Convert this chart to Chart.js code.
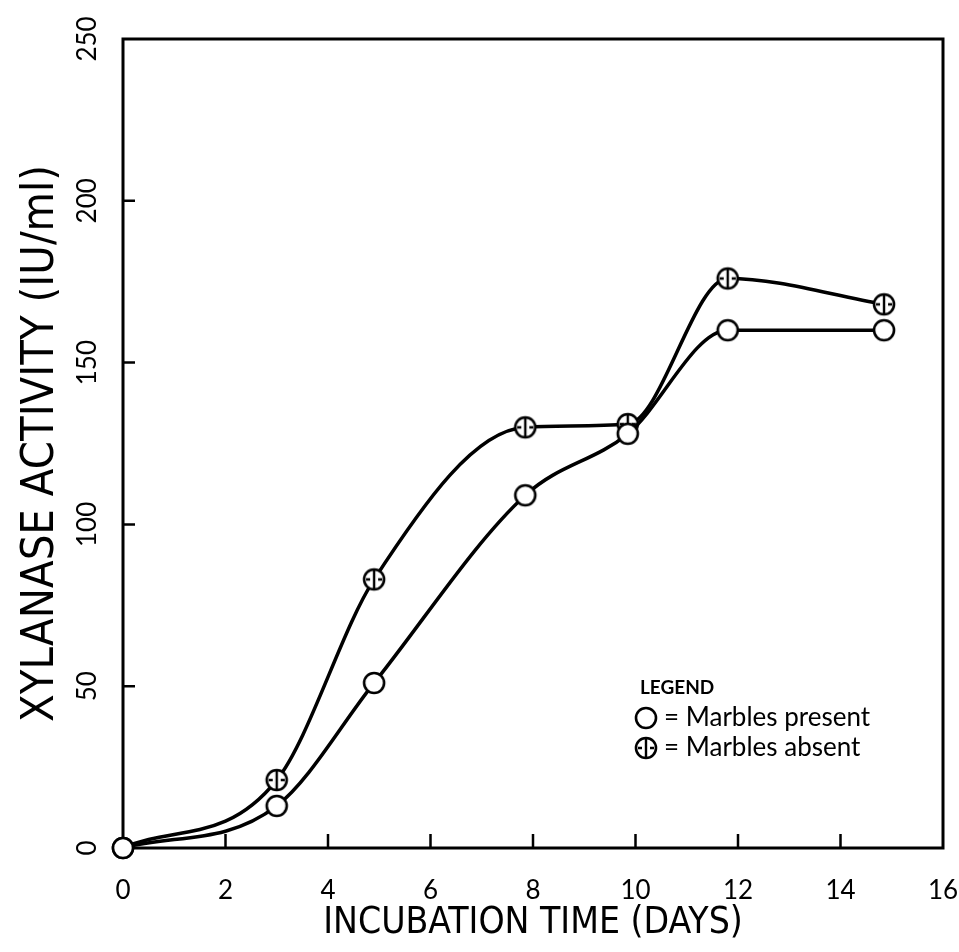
<!DOCTYPE html>
<html>
<head>
<meta charset="utf-8">
<title>Xylanase activity</title>
<script src="https://cdn.jsdelivr.net/npm/chart.js@4/dist/chart.umd.min.js"></script>
<style>
  html, body { margin: 0; padding: 0; background: #fff; }
  #wrap { width: 959px; height: 952px; }
</style>
</head>
<body>
<div id="wrap"><canvas id="chart" width="959" height="952"></canvas></div>
<script>
// values
const days = [0, 3, 4.9, 7.85, 9.85, 11.8, 14.85];
const presentValues = [0, 13, 51, 109, 128, 160, 160];
const absentValues = [0, 21, 83, 130, 131, 176, 168];
const xTickValues = [0, 2, 4, 6, 8, 10, 12, 14, 16];
const yTickValues = [0, 50, 100, 150, 200, 250];
const legendTitle = 'LEGEND';
const legendLabels = ['= Marbles present', '= Marbles absent'];

const NARROW = '"Liberation Sans Narrow", "DejaVu Sans Condensed", "Liberation Sans", sans-serif';
const ROUND = 'Lato, "Noto Sans", sans-serif';

function makeMarker(crossed) {
  const c = document.createElement('canvas');
  c.width = 26;
  c.height = 26;
  const g = c.getContext('2d');
  g.fillStyle = '#fff';
  g.strokeStyle = '#000';
  g.lineWidth = 2.6;
  g.beginPath();
  g.arc(13, 13, 10, 0, Math.PI * 2);
  g.fill();
  g.stroke();
  if (crossed) {
    g.lineWidth = 2.4;
    g.beginPath();
    g.moveTo(13, 3);
    g.lineTo(13, 23);
    g.moveTo(5, 13);
    g.lineTo(9, 13);
    g.moveTo(17, 13);
    g.lineTo(21, 13);
    g.stroke();
  }
  return c;
}

const openMarker = makeMarker(false);
const crossMarker = makeMarker(true);

function toPoints(values) {
  return days.map((d, i) => ({ x: d, y: values[i] }));
}

const frameAndTicks = {
  id: 'frameAndTicks',
  beforeDatasetsDraw(chart) {
    const { ctx, chartArea: a, scales } = chart;
    ctx.save();
    ctx.strokeStyle = '#000';
    ctx.lineWidth = 3;
    ctx.strokeRect(a.left, a.top, a.right - a.left, a.bottom - a.top);
    ctx.lineWidth = 2.5;
    ctx.beginPath();
    xTickValues.slice(1, -1).forEach((v) => {
      const px = scales.x.getPixelForValue(v);
      ctx.moveTo(px, a.bottom);
      ctx.lineTo(px, a.bottom - 14);
    });
    yTickValues.slice(1, -1).forEach((v) => {
      const py = scales.y.getPixelForValue(v);
      ctx.moveTo(a.left, py);
      ctx.lineTo(a.left + 12, py);
    });
    ctx.stroke();
    ctx.restore();
  },
};

const textLegend = {
  id: 'textLegend',
  afterDraw(chart) {
    const { ctx } = chart;
    ctx.save();
    ctx.fillStyle = '#000';
    ctx.textBaseline = 'middle';
    ctx.font = 'bold 19px ' + ROUND;
    ctx.fillText(legendTitle, 640, 688);
    ctx.font = '26px ' + ROUND;
    const markers = [openMarker, crossMarker];
    legendLabels.forEach((label, i) => {
      const y = 718 + i * 30;
      ctx.drawImage(markers[i], 646 - 13, y - 13);
      ctx.fillText(label, 664, y);
    });
    ctx.restore();
  },
};

new Chart(document.getElementById('chart'), {
  type: 'line',
  data: {
    datasets: [
      {
        label: 'Marbles present',
        data: toPoints(presentValues),
        borderColor: '#000',
        borderWidth: 3.5,
        cubicInterpolationMode: 'monotone',
        pointStyle: openMarker,
        pointRadius: 10,
        clip: false,
      },
      {
        label: 'Marbles absent',
        data: toPoints(absentValues),
        borderColor: '#000',
        borderWidth: 3.5,
        cubicInterpolationMode: 'monotone',
        pointStyle: crossMarker,
        pointRadius: 10,
        clip: false,
      },
    ],
  },
  options: {
    responsive: false,
    animation: false,
    layout: { padding: { top: 39, right: 16, left: 0, bottom: 0 } },
    plugins: {
      legend: { display: false },
      tooltip: { enabled: false },
    },
    scales: {
      x: {
        type: 'linear',
        min: 0,
        max: 16,
        afterBuildTicks: (s) => { s.ticks = xTickValues.map((v) => ({ value: v })); },
        afterFit: (s) => { s.height = 104; s.paddingLeft = 0; s.paddingRight = 0; },
        grid: { display: false, drawTicks: false },
        border: { display: false },
        ticks: {
          color: '#000',
          padding: 27,
          font: { family: ROUND, size: 26 },
        },
        title: {
          display: true,
          text: 'INCUBATION TIME (DAYS)',
          color: '#000',
          font: { family: NARROW, size: 37 },
          padding: { bottom: 6 },
        },
      },
      y: {
        min: 0,
        max: 250,
        afterBuildTicks: (s) => { s.ticks = yTickValues.map((v) => ({ value: v })); },
        afterFit: (s) => { s.width = 123; s.paddingTop = 0; s.paddingBottom = 0; },
        grid: { display: false, drawTicks: false },
        border: { display: false },
        ticks: {
          color: '#000',
          padding: 13,
          minRotation: 90,
          maxRotation: 90,
          crossAlign: 'center',
          font: { family: ROUND, size: 26 },
        },
        title: {
          display: true,
          text: 'XYLANASE ACTIVITY (IU/ml)',
          color: '#000',
          font: { family: NARROW, size: 45 },
          padding: { top: 14 },
        },
      },
    },
  },
  plugins: [frameAndTicks, textLegend],
});
</script>
</body>
</html>
